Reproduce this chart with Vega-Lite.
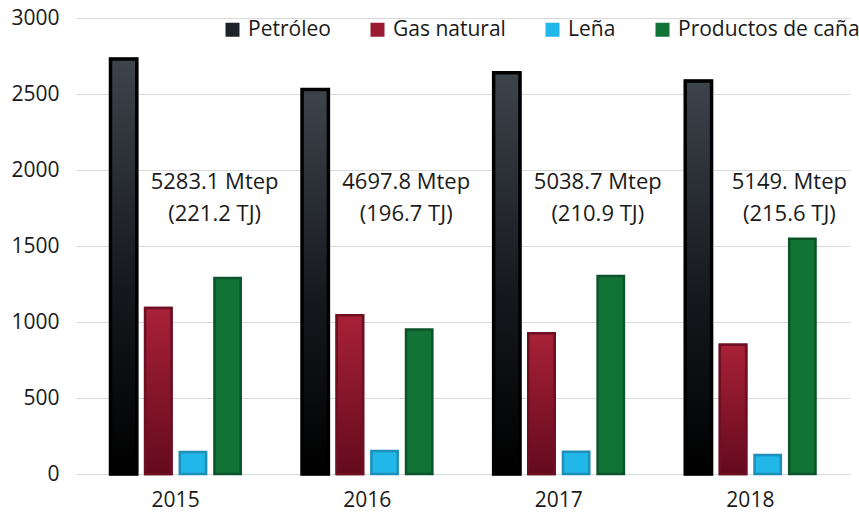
{
  "$schema": "https://vega.github.io/schema/vega-lite/v6.json",
  "width": 859,
  "height": 512,
  "autosize": {"type": "fit", "contains": "padding"},
  "padding": {"left": 10, "top": 7, "right": 9, "bottom": 2},
  "background": "white",
  "config": {
    "font": "Open Sans",
    "view": {"stroke": null},
    "axis": {"labelFont": "Open Sans", "labelFontSize": 21, "labelColor": "#1a1a1a"}
  },
  "datasets": {
    "bars": [
      {"year": "2015", "fuel": "Petróleo", "value": 2730},
      {"year": "2015", "fuel": "Gas natural", "value": 1092},
      {"year": "2015", "fuel": "Leña", "value": 145},
      {"year": "2015", "fuel": "Productos de caña", "value": 1290},
      {"year": "2016", "fuel": "Petróleo", "value": 2530},
      {"year": "2016", "fuel": "Gas natural", "value": 1045},
      {"year": "2016", "fuel": "Leña", "value": 152},
      {"year": "2016", "fuel": "Productos de caña", "value": 950},
      {"year": "2017", "fuel": "Petróleo", "value": 2640},
      {"year": "2017", "fuel": "Gas natural", "value": 926},
      {"year": "2017", "fuel": "Leña", "value": 146},
      {"year": "2017", "fuel": "Productos de caña", "value": 1303},
      {"year": "2018", "fuel": "Petróleo", "value": 2585},
      {"year": "2018", "fuel": "Gas natural", "value": 850},
      {"year": "2018", "fuel": "Leña", "value": 125},
      {"year": "2018", "fuel": "Productos de caña", "value": 1548}
    ],
    "notes": [
      {"year": "2015", "y": 1985, "label": ["5283.1 Mtep", "(221.2 TJ)"]},
      {"year": "2016", "y": 1985, "label": ["4697.8 Mtep", "(196.7 TJ)"]},
      {"year": "2017", "y": 1985, "label": ["5038.7 Mtep", "(210.9 TJ)"]},
      {"year": "2018", "y": 1985, "label": ["5149. Mtep", "(215.6 TJ)"]}
    ]
  },
  "layer": [
    {
      "data": {"name": "bars"},
      "mark": {"type": "bar", "strokeWidth": 2.5},
      "encoding": {
        "x": {"field": "year", "type": "nominal", "scale": {"paddingInner": 0.32, "paddingOuter": 0.18},
              "axis": {"title": null, "labelAngle": 0, "domain": false, "ticks": false, "labelPadding": 15}},
        "xOffset": {"field": "fuel", "type": "nominal",
                    "scale": {"domain": ["Petróleo", "Gas natural", "Leña", "Productos de caña"], "paddingInner": 0.24, "paddingOuter": 0}},
        "y": {"field": "value", "type": "quantitative",
              "scale": {"domain": [0, 3000], "nice": false},
              "axis": {"title": null, "values": [0, 500, 1000, 1500, 2000, 2500, 3000], "format": "d", "domain": false, "ticks": false,
                       "labelPadding": 17, "gridColor": "#d9d9d9", "gridWidth": 1.2}},
        "color": {"field": "fuel", "type": "nominal",
                  "scale": {"domain": ["Petróleo", "Gas natural", "Leña", "Productos de caña"],
                            "range": ["#1e2229", "#9b1b30", "#21b7e8", "#127337"]},
                  "legend": {"title": null, "orient": "none", "legendX": 146, "legendY": 1, "direction": "horizontal", "symbolType": "square",
                             "symbolSize": 196, "symbolStrokeWidth": 0, "labelFontSize": 21, "labelFont": "Open Sans",
                             "labelColor": "#1a1a1a", "labelLimit": 0, "columnPadding": 36, "labelOffset": 5, "padding": 0}},
        "stroke": {"field": "fuel", "type": "nominal",
                   "scale": {"domain": ["Petróleo", "Gas natural", "Leña", "Productos de caña"],
                             "range": ["#000000", "#6e0f22", "#1d8fb8", "#0b5328"]},
                   "legend": null}
      }
    },
    {
      "data": {"name": "bars"},
      "transform": [{"filter": "datum.fuel === 'Petróleo'"}],
      "mark": {"type": "bar", "stroke": "#000000", "strokeWidth": 3.5,
               "fill": {"gradient": "linear", "x1": 0, "y1": 0, "x2": 0, "y2": 1,
                        "stops": [{"offset": 0, "color": "#3e444c"}, {"offset": 0.55, "color": "#15181d"}, {"offset": 1, "color": "#000000"}]}},
      "encoding": {
        "x": {"field": "year", "type": "nominal"},
        "xOffset": {"field": "fuel", "type": "nominal"},
        "y": {"field": "value", "type": "quantitative"}
      }
    },
    {
      "data": {"name": "bars"},
      "transform": [{"filter": "datum.fuel === 'Gas natural'"}],
      "mark": {"type": "bar", "stroke": "#6e0f22", "strokeWidth": 2.5,
               "fill": {"gradient": "linear", "x1": 0, "y1": 0, "x2": 0, "y2": 1,
                        "stops": [{"offset": 0, "color": "#a82137"}, {"offset": 1, "color": "#640a1e"}]}},
      "encoding": {
        "x": {"field": "year", "type": "nominal"},
        "xOffset": {"field": "fuel", "type": "nominal"},
        "y": {"field": "value", "type": "quantitative"}
      }
    },
    {
      "data": {"name": "notes"},
      "mark": {"type": "text", "fontSize": 22, "font": "Open Sans", "color": "#1a1a1a", "lineHeight": 32, "dx": 39, "baseline": "top"},
      "encoding": {
        "x": {"field": "year", "type": "nominal"},
        "y": {"field": "y", "type": "quantitative"},
        "text": {"field": "label"}
      }
    }
  ]
}
